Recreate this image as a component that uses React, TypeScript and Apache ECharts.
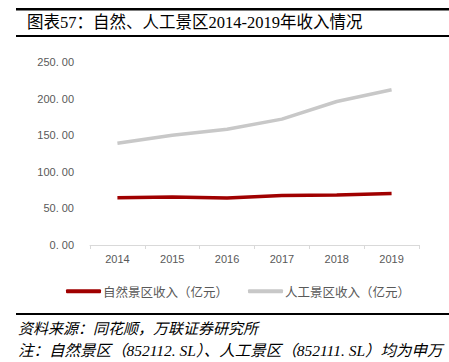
import React, { useEffect, useRef } from "react";
import * as echarts from "echarts";

const years = ["2014", "2015", "2016", "2017", "2018", "2019"];
const naturalRevenue = [64.6, 65.5, 64.3, 67.5, 68.3, 70.2];
const artificialRevenue = [139, 150, 158, 172, 196, 212];
const seriesNames = ["自然景区收入（亿元）", "人工景区收入（亿元）"];
const titleText = "图表57：自然、人工景区2014-2019年收入情况";
const sourceText = "资料来源：同花顺，万联证券研究所";
const noteText = "注：自然景区（852112. SL）、人工景区（852111. SL）均为申万";

export default function App() {
  const ref = useRef<HTMLDivElement>(null);
  useEffect(() => {
    if (!ref.current) return;
    const chart = echarts.init(ref.current, undefined, { renderer: "svg" });
    const cjk = "'Liberation Serif', 'Noto Sans CJK SC', serif";
    chart.setOption({
      animation: false,
      backgroundColor: "#ffffff",
      grid: { left: 90, right: 30, top: 62, bottom: 117 },
      xAxis: {
        type: "category",
        data: years,
        boundaryGap: true,
        axisLine: { lineStyle: { color: "#D9D9D9", width: 1 } },
        axisTick: { show: true, length: 4, lineStyle: { color: "#D9D9D9" } },
        axisLabel: { color: "#595959", fontSize: 11, fontFamily: "'Liberation Sans', Arial", margin: 8 },
      },
      yAxis: {
        type: "value",
        min: 0,
        max: 250,
        interval: 50,
        axisLine: { show: false },
        axisTick: { show: false },
        splitLine: { show: false },
        axisLabel: {
          color: "#595959",
          fontSize: 11,
          fontFamily: "'Liberation Sans', Arial",
          margin: 16,
          formatter: (v: number) => v.toFixed(2).replace(".", ". "),
        },
      },
      legend: {
        left: 61,
        top: 280,
        itemWidth: 35,
        itemHeight: 4,
        itemGap: 20,
        icon: "roundRect",
        textStyle: { color: "#595959", fontSize: 12.5, fontFamily: "'Noto Sans CJK SC'", padding: [0, 0, 0, -3] },
        data: seriesNames,
      },
      series: [
        {
          name: seriesNames[0],
          type: "line",
          data: naturalRevenue,
          symbol: "none",
          lineStyle: { color: "#A00000", width: 3.5 },
          itemStyle: { color: "#A00000" },
        },
        {
          name: seriesNames[1],
          type: "line",
          data: artificialRevenue,
          symbol: "none",
          lineStyle: { color: "#C8C8C8", width: 3.5 },
          itemStyle: { color: "#C8C8C8" },
        },
      ],
      graphic: [
        { type: "rect", shape: { x: 16, y: 8, width: 433, height: 2.5 }, style: { fill: "#000" } },
        { type: "rect", shape: { x: 16, y: 35, width: 433, height: 2 }, style: { fill: "#000" } },
        {
          type: "text",
          x: 27,
          y: 22,
          style: { text: titleText, fill: "#000", font: `16.5px ${cjk}`, textVerticalAlign: "middle" },
        },
        { type: "rect", shape: { x: 16, y: 313, width: 433, height: 2 }, style: { fill: "#000" } },
        {
          type: "text",
          x: 18,
          y: 329,
          style: { text: sourceText, fill: "#000", font: `italic 15px ${cjk}`, textVerticalAlign: "middle" },
        },
        {
          type: "text",
          x: 18,
          y: 350,
          style: { text: noteText, fill: "#000", font: `italic 15.5px ${cjk}`, textVerticalAlign: "middle" },
        },
      ],
    });
    return () => chart.dispose();
  }, []);
  return <div ref={ref} style={{ width: 449, height: 362, position: "absolute", left: 0, top: 0 }} />;
}
